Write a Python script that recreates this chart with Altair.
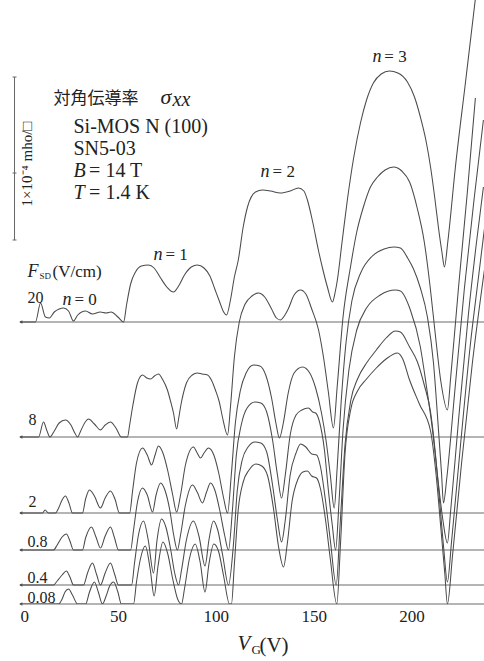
import altair as alt
import pandas as pd

# Source-drain field of each trace (V/cm) and vertical offset of its baseline
FIELDS = ["20", "8", "2", "0.8", "0.4", "0.08"]
OFFSETS = [282, 167, 91, 54, 19, 0]

# (V_G [V], sigma_xx [relative units above own baseline])
F20 = [(0, 0), (7.9, 0), (10.5, 19), (13.0, 5), (15.0, 4), (17.5, 10), (20.0, 13), (22.2, 14), (24.8, 11),
       (27.3, 1), (29.5, 7), (33.5, 11), (37.0, 8), (41.0, 10), (44.0, 9), (46.5, 10), (50.0, 5), (52.9, 0),
       (54.5, 18), (56.5, 38), (59, 50), (62, 56), (65.6, 57), (68.5, 54), (71.5, 45), (75, 35), (78.4, 30),
       (81, 36), (84, 47), (87.5, 55), (90.6, 57), (94, 54), (97, 46), (99.5, 33), (102, 20), (104, 10),
       (105.5, 7), (107.5, 22), (109.5, 45), (111.5, 62), (114, 95), (116.2, 115), (120.3, 130), (123.9, 132),
       (128, 131), (133, 129), (138, 131), (142.2, 134), (145, 131), (146.8, 122), (149.5, 100), (152.4, 72),
       (155, 50), (157, 35), (159.6, 20), (161, 30), (162.1, 42), (164.5, 80), (167.2, 122), (170.5, 165),
       (173.9, 199), (177, 222), (180.5, 239), (184.5, 248), (188.7, 251), (193, 249), (197.9, 240),
       (201.5, 225), (204.5, 205), (207.5, 180), (209.7, 155), (211.8, 125), (213.7, 95), (215.5, 70),
       (216.8, 55), (218.5, 80), (222.4, 155), (227.5, 239), (232.1, 315), (234.5, 355)]

F8 = [(0, 0), (9.5, 0), (12.0, 15), (13.8, 6), (15.3, 0), (17.5, 6), (20, 14), (23.2, 17), (26, 12), (28, 4),
      (29.4, 0), (31, 6), (33, 14), (35, 18), (38, 13), (41.1, 7), (43.5, 12), (46.2, 15), (49, 9), (51.8, 0),
      (54.9, 0), (56, 12), (57.5, 30), (60, 54), (62.6, 62), (64.8, 59), (66.7, 58), (68.7, 61), (70.7, 63),
      (73, 57), (75.3, 47), (77, 35), (78.4, 24), (80, 8), (81, 18), (82, 30), (85, 54), (88, 62), (90.6, 64),
      (93, 63), (95.8, 62), (98, 56), (99.8, 47), (101.8, 35), (103.4, 20), (106, 2), (107.5, 30), (109.5, 80),
      (112, 115), (115, 133), (118.5, 141), (121.8, 144), (125, 140), (128.5, 128), (131, 119), (133, 117),
      (135, 121), (137, 128), (140, 142), (143.3, 147), (146, 143), (149, 128), (152.5, 107), (155, 80),
      (157.5, 45), (160.1, 9), (162, 50), (165, 120), (168.8, 170), (172, 205), (175.4, 230), (179, 250),
      (182.6, 260), (186.5, 267), (190.8, 270), (195, 266), (199, 255), (203, 228), (206.5, 195), (209.5, 150),
      (212, 105), (215, 55), (218.3, 27), (220, 60), (224, 150), (228.5, 245), (232.6, 339)]

F2 = [(0, 0), (11.5, 0), (12.8, 3), (14.5, 0), (18.1, 0), (19.5, 4), (21.5, 13), (23.2, 17), (25, 10), (26.8, 0),
      (31.9, 0), (33.5, 14), (35.5, 23), (38, 17), (41.1, 5), (43.5, 15), (46.2, 22), (48.5, 14), (50.8, 0),
      (56, 0), (57.5, 22), (59.5, 50), (62.6, 65), (65, 58), (67.2, 48), (69, 58), (70.7, 67), (73, 60),
      (75.5, 42), (78, 18), (80, 1), (82, 18), (84.5, 48), (88.6, 66), (90.5, 60), (92.2, 55), (94, 60),
      (96.3, 65), (99, 58), (101.5, 40), (104, 15), (106, 0), (108, 40), (110, 90), (112.5, 122), (115.5, 140),
      (119.3, 148), (122.5, 147), (125.5, 138), (128.5, 115), (130.7, 90), (132.5, 75), (134.5, 90), (137, 120),
      (140, 140), (144.3, 146), (148, 140), (151, 125), (154, 100), (156.5, 70), (158.5, 38), (160.5, 5),
      (162, 45), (164, 110), (166.5, 170), (169.5, 212), (174, 240), (180, 257), (186, 264), (191, 266),
      (194.3, 265), (198, 255), (201, 244), (204.5, 225), (208.1, 196), (211.2, 150), (213.5, 90), (215.3, 40),
      (216.3, 10), (218, 35), (222, 120), (227, 225), (232, 315), (236.7, 393)]

F08 = [(0, 0), (17.1, 0), (19, 5), (21.5, 13), (23.7, 16), (25.5, 9), (27.3, 0), (31.9, 0), (33.5, 12),
       (36.5, 23), (38.8, 13), (41.1, 2), (43.5, 14), (46.2, 23), (48.3, 12), (50.3, 0), (56.5, 0), (58, 20),
       (60, 48), (62.6, 62), (65, 55), (67.7, 38), (69.5, 55), (71.8, 67), (74, 60), (76.5, 40), (78.5, 15),
       (80.4, 0), (82, 15), (84.5, 45), (88.1, 65), (90.5, 58), (93.2, 47), (95.3, 58), (97.3, 67), (99.5, 60),
       (102, 40), (104.5, 15), (106.5, 0), (108.5, 40), (110.5, 95), (113, 125), (116, 142), (120, 148),
       (123, 147), (126, 138), (129, 110), (131.5, 75), (133.6, 52), (135.5, 75), (138, 115), (141, 135),
       (144, 140), (147.3, 142), (149.5, 138), (151, 137), (153, 128), (155.5, 100), (157.5, 60), (159.5, 25),
       (161.2, 0), (163, 50), (165, 120), (168, 180), (172, 220), (177, 242), (184, 255), (191.8, 260),
       (194.3, 259), (199.4, 240), (204.5, 203), (207.5, 165), (210.7, 120), (213.5, 70), (216, 30),
       (218.3, 7), (220, 40), (224, 130), (229, 235), (233, 305), (236.7, 363)]

F04 = [(0, 0), (17.1, 0), (19, 4), (21.5, 10), (23.7, 14), (25.5, 8), (27.3, 0), (32.4, 0), (34.5, 12),
       (37, 22), (39.2, 10), (41.1, 0), (43.5, 12), (46.2, 22), (48.3, 11), (50.3, 0), (57, 0), (58.5, 22),
       (60.5, 50), (63.1, 64), (65.5, 45), (68.2, 12), (70, 45), (72.3, 66), (74.5, 58), (77, 35), (79, 12),
       (81, 0), (82.5, 15), (85, 45), (88.6, 64), (91.5, 48), (94.5, 19), (96.5, 45), (98.8, 64), (101, 55),
       (103.5, 30), (106.5, 0), (109, 40), (111, 95), (113.5, 125), (116.5, 138), (120, 143), (123, 142),
       (126, 133), (129, 100), (131.5, 65), (133.6, 43), (135.5, 65), (138, 110), (141, 132), (143.3, 141),
       (146, 138), (149, 131), (151.5, 130), (153.5, 118), (156, 85), (158.5, 45), (161.5, 0), (163.5, 60),
       (166, 140), (169, 185), (172.4, 206), (177, 222), (182, 235), (187, 247), (191.8, 254), (194.3, 253),
       (199, 238), (203, 223), (206.5, 200), (209.7, 173), (212, 135), (214.5, 80), (216.5, 35), (218.3, 3),
       (220.5, 45), (225, 140), (230, 240), (234, 305), (237.2, 356)]

F008 = [(0, 0), (19.7, 0), (21.5, 5), (23, 12), (24.8, 15), (26.8, 9), (29.4, 0), (33.5, 0), (35.5, 12),
        (38, 22), (40, 12), (42.1, 0), (44, 8), (45.8, 18), (47.8, 22), (50, 12), (51.8, 0), (58, 0),
        (59.5, 22), (61.5, 45), (64, 58), (66.5, 35), (68.5, 8), (70.5, 38), (73, 62), (75.5, 50), (78, 25),
        (80.5, 5), (82.5, 0), (84, 15), (86.5, 45), (89.5, 60), (92, 42), (94.5, 12), (96.5, 40), (99, 60),
        (101.5, 52), (104, 28), (107, 0), (108, 0), (109.5, 40), (111.5, 95), (114, 122), (117, 134),
        (120.5, 140), (123.5, 138), (126.5, 128), (129.5, 95), (132, 58), (134.6, 37), (136.5, 60), (139, 103),
        (142, 125), (144.5, 132), (146.8, 133), (149, 128), (151.5, 126), (153.5, 115), (156, 85), (158.5, 45),
        (161.8, 0), (163.7, 60), (166, 150), (169, 195), (172.4, 213), (177, 225), (182, 236), (187, 245),
        (192.8, 251), (195.5, 245), (198.8, 225), (204, 200), (209.7, 173), (212.5, 130), (215, 75), (217, 30),
        (218.3, 0), (221, 50), (225.5, 140), (231, 240), (237.2, 334)]

CURVES = [F20, F8, F2, F08, F04, F008]

# Tick values of the gate-voltage axis
X_TICKS = [0, 50, 100, 150, 200]

# Scale bar (1e-4 mho/sq) in the same vertical units
SCALE_BAR = {"V": -2.8, "y1": 364, "y2": 527}
SCALE_TICKS = [364, 431, 527]

# Text annotations: (V, y, text)
SERIF_TEXT = [(27.3, 471, "Si-MOS N (100)"), (27.3, 449, "SN5-03"), (35.3, 427, "= 14 T"),
              (35.3, 405, "= 1.4 K")]
FIELD_HEAD = [(16.6, 327, "(V/cm)")]
FIELD_LABELS = [(3.8, 301, "20"), (4.3, 179, "8"), (4.3, 97, "2"), (3.8, 57, "0.8"), (3.8, 21, "0.4"),
                (3.8, 1, "0.08")]
N_EQ = [(27.8, 299, "= 0"), (74.3, 344, "= 1"), (129.0, 427, "= 2"), (186.1, 542, "= 3")]
N_ITALIC = [(21.7, 299, "n"), (68.2, 344, "n"), (122.8, 427, "n"), (180.0, 542, "n")]
BIG_ITALIC = [(27.3, 427, "B"), (27.3, 405, "T")]
SIGMA = [(71.8, 500, "σ")]
SIGMA_SUB = [(77.9, 498, "xx")]
CJK_TITLE = [(17.1, 500, "対角伝導率")]
F_ITALIC = [(3.8, 327, "F")]
F_SUB = [(10.0, 325, "SD")]
AXIS_V = [(111.1, -46, "V")]
AXIS_G = [(118.2, -50, "G")]
AXIS_UNIT = [(122.3, -48, "(V)")]
UNIT_LABEL = [(3.8, 440, "1×10⁻⁴ mho/□")]

INK = "#4a4a4a"
TXT = "#222222"
SERIF = "Liberation Serif"

rows = []
for f, off, pts in zip(FIELDS, OFFSETS, CURVES):
    for i, (v, h) in enumerate(pts):
        rows.append({"F": f, "V": v, "y": h + off, "order": i})
curves_df = pd.DataFrame(rows)
base_df = pd.DataFrame({"F": FIELDS, "y": OFFSETS, "V": [0.4] * len(FIELDS)})

x_scale = alt.Scale(domain=[0, 237], nice=False, zero=False)
y_scale = alt.Scale(domain=[0, 604], nice=False, zero=False)
x_axis = alt.Axis(values=X_TICKS, domain=False, ticks=False, grid=False, labelFont=SERIF,
                  labelFontSize=17, labelPadding=4, labelColor=TXT, title=None)


def X(field="V"):
    return alt.X(f"{field}:Q", scale=x_scale, axis=x_axis)


def Y(field="y"):
    return alt.Y(f"{field}:Q", scale=y_scale, axis=None)


def tdf(items):
    return pd.DataFrame(items, columns=["V", "y", "text"])


def text_layer(items, size, font=SERIF, style="normal", angle=0, align="left", baseline="alphabetic"):
    kw = dict(fontSize=size, font=font, fontStyle=style, color=TXT, align=align, baseline=baseline)
    if angle:
        kw["angle"] = angle
    return alt.Chart(tdf(items)).mark_text(**kw).encode(x=X(), y=Y(), text="text:N")


baselines = alt.Chart(base_df).mark_rule(color="#6a6a6a", strokeWidth=1).encode(y=Y())
arrows = alt.Chart(base_df).mark_point(shape="triangle-left", filled=True, size=14, color="#555",
                                       opacity=1).encode(x=X(), y=Y())

lines = alt.Chart(curves_df).mark_line(interpolate="monotone", clip=True, color=INK,
                                       strokeWidth=1.05).encode(
    x=X(), y=Y(), detail="F:N", order="order:Q")

bar_df = pd.DataFrame([SCALE_BAR])
bar = alt.Chart(bar_df).mark_rule(color="#666", strokeWidth=1).encode(
    x=X(), y=Y("y1"), y2="y2:Q")
tick_df = pd.DataFrame({"V": [-3.8] * 3, "V2": [-1.8] * 3, "y": SCALE_TICKS})
bar_ticks = alt.Chart(tick_df).mark_rule(color="#666", strokeWidth=1).encode(
    x=X(), x2="V2:Q", y=Y())

layers = [
    baselines, arrows, lines, bar, bar_ticks,
    text_layer(CJK_TITLE, 17, font="Noto Sans CJK JP"),
    text_layer(SIGMA, 22, style="italic"),
    text_layer(SIGMA_SUB, 20, style="italic"),
    text_layer(SERIF_TEXT, 20),
    text_layer(BIG_ITALIC, 20, style="italic"),
    text_layer(F_ITALIC, 18, style="italic"),
    text_layer(F_SUB, 9),
    text_layer(FIELD_HEAD, 17),
    text_layer(FIELD_LABELS, 16),
    text_layer(N_ITALIC, 18, style="italic"),
    text_layer(N_EQ, 17),
    text_layer(AXIS_V, 21, style="italic"),
    text_layer(AXIS_G, 13),
    text_layer(AXIS_UNIT, 21),
    text_layer(UNIT_LABEL, 15, angle=270, align="center", baseline="middle"),
]

chart = alt.layer(*layers).properties(
    width=464, height=604,
    padding={"left": 20, "top": 0, "right": 0, "bottom": 57},
    autosize=alt.AutoSizeParams(type="none"),
    background="white",
).configure_view(stroke=None)

chart.save("out.html", embed_options={"renderer": "svg", "actions": False})
